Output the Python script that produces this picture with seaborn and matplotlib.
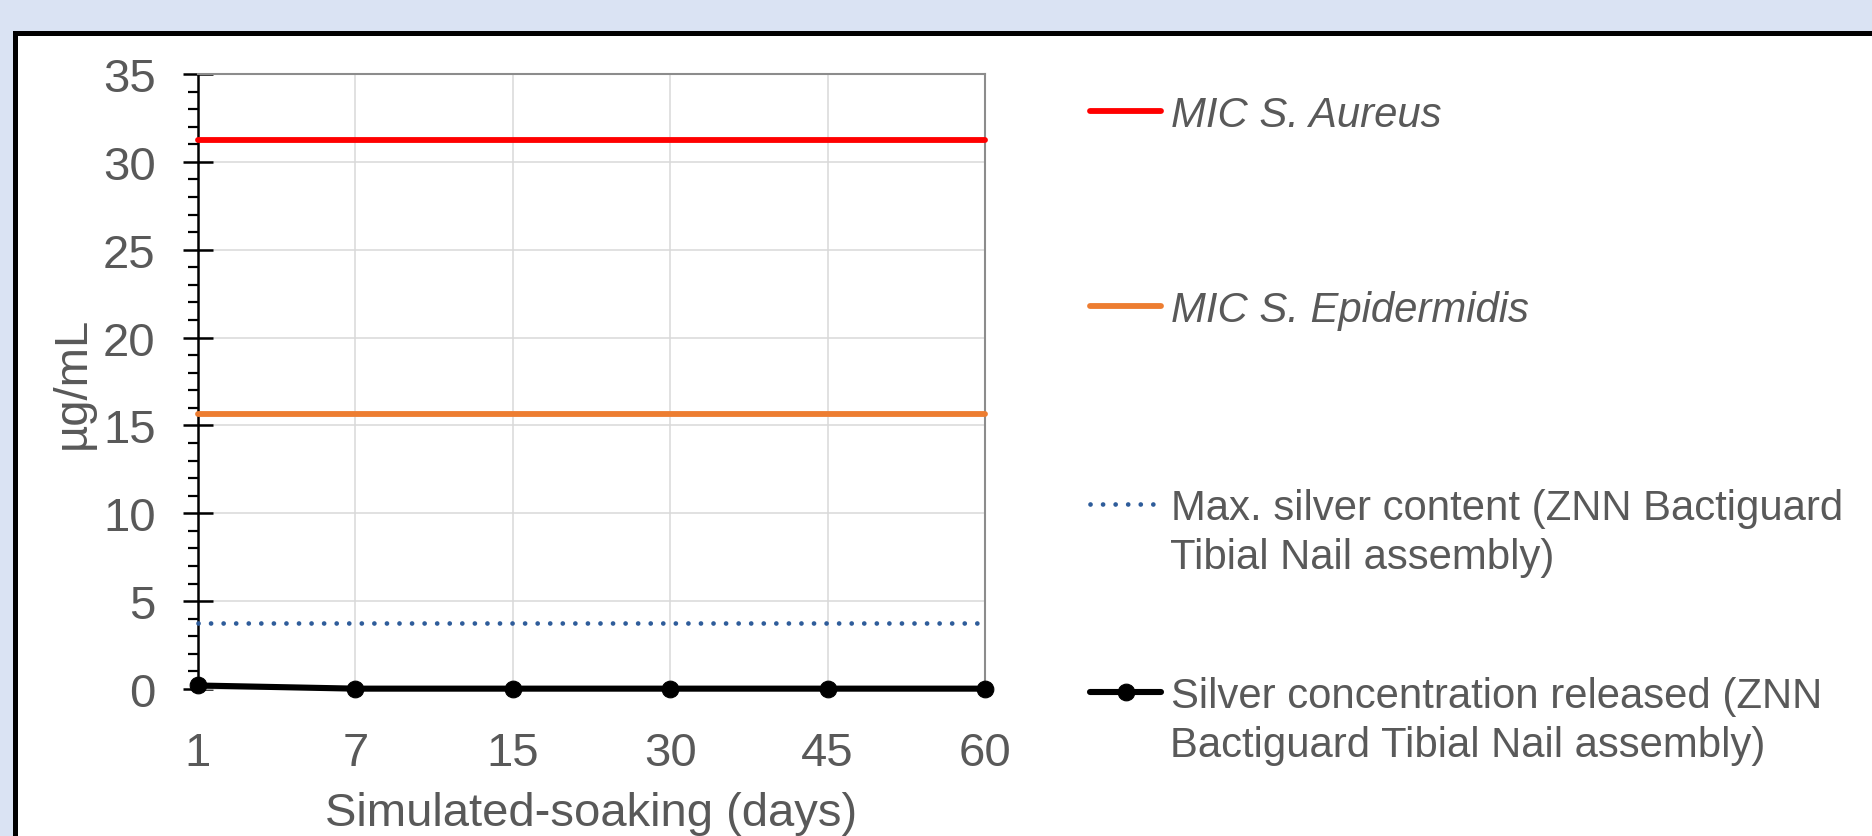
import matplotlib
matplotlib.use("Agg")
import matplotlib.pyplot as plt
import seaborn as sns
import pandas as pd
from matplotlib.patches import Rectangle
from matplotlib.ticker import MultipleLocator

# ---------------- data ----------------
days = ["1", "7", "15", "30", "45", "60"]
mic_aureus = [31.25, 31.25, 31.25, 31.25, 31.25, 31.25]
mic_epidermidis = [15.625, 15.625, 15.625, 15.625, 15.625, 15.625]
max_silver = [3.78, 3.78, 3.78, 3.78, 3.78, 3.78]
silver_released = [0.20, 0.02, 0.02, 0.02, 0.02, 0.02]

label_aureus = "MIC S. Aureus"
label_epi = "MIC S. Epidermidis"
label_max = ["Max. silver content (ZNN Bactiguard", "Tibial Nail assembly)"]
label_rel = ["Silver concentration released (ZNN", "Bactiguard Tibial Nail assembly)"]

x_label = "Simulated-soaking (days)"
y_label = "µg/mL"

# ---------------- style ----------------
sns.set_theme(style="white")
plt.rcParams["font.family"] = ["Liberation Sans", "DejaVu Sans"]
TXT = "#595959"

W, H = 1872, 837
fig = plt.figure(figsize=(W / 100, H / 100), dpi=100)
fig.patch.set_facecolor("#DAE3F3")

panel = Rectangle((14.5 / W, -0.1), 1.2, 1 - 33.5 / H + 0.1,
                  transform=fig.transFigure, facecolor="white",
                  edgecolor="black", lw=3.6, zorder=0)
fig.add_artist(panel)

ax = fig.add_axes([198 / W, 1 - 690 / H, (985 - 198) / W, (690 - 75) / H])
ax.set_facecolor("white")

df = pd.DataFrame({
    "day": days,
    "aureus": mic_aureus,
    "epi": mic_epidermidis,
    "maxs": max_silver,
    "rel": silver_released,
})

sns.lineplot(data=df, x="day", y="aureus", ax=ax, sort=False, errorbar=None,
             color="#FF0000", lw=4.2, solid_capstyle="round")
l_aureus = ax.lines[-1]
sns.lineplot(data=df, x="day", y="epi", ax=ax, sort=False, errorbar=None,
             color="#ED7D31", lw=4.2, solid_capstyle="round")
l_epi = ax.lines[-1]
sns.lineplot(data=df, x="day", y="maxs", ax=ax, sort=False, errorbar=None,
             color="#2E5C9A", lw=3.4)
l_max = ax.lines[-1]
l_max.set_linestyle((0, (0.01, 2.65)))
l_max.set_dash_capstyle("round")
sns.lineplot(data=df, x="day", y="rel", ax=ax, sort=False, errorbar=None,
             color="black", lw=4.4, marker="o", markersize=12,
             markeredgecolor="black", markeredgewidth=0.8,
             solid_capstyle="round")
l_rel = ax.lines[-1]

for i, ln in enumerate((l_aureus, l_epi, l_max, l_rel)):
    ln.set_clip_on(False)
    ln.set_zorder(3 + i * 0.1)

# axes
ax.set_xlim(0, len(days) - 1)
ax.set_ylim(0, 35)
ax.yaxis.set_major_locator(MultipleLocator(5))
ax.yaxis.set_minor_locator(MultipleLocator(1))
ax.grid(True, which="major", color="#D9D9D9", lw=1.1)
ax.set_axisbelow(True)

ax.tick_params(axis="x", length=0, pad=30, labelsize=34, labelcolor=TXT)
ax.tick_params(axis="y", which="major", direction="inout", length=21,
               width=1.8, color="black", pad=20, labelsize=34, labelcolor=TXT,
               left=True)
ax.tick_params(axis="y", which="minor", direction="out", length=7,
               width=1.6, color="black", left=True)

for s in ("top", "right"):
    ax.spines[s].set_color("#8C8C8C")
    ax.spines[s].set_linewidth(1.5)
ax.spines["left"].set_color("black")
ax.spines["left"].set_linewidth(1.8)
ax.spines["bottom"].set_color("#D9D9D9")
ax.spines["bottom"].set_linewidth(1.1)

ax.set_xlabel(x_label, fontsize=34, color=TXT, labelpad=12)
ax.set_ylabel(y_label, fontsize=34, color=TXT, labelpad=6)

# legend (one entry per block, positioned like the original)
entries = [
    (l_aureus, label_aureus, None, 116, "italic"),
    (l_epi, label_epi, None, 311, "italic"),
    (l_max, label_max[0], label_max[1], 509, "normal"),
    (l_rel, label_rel[0], label_rel[1], 697, "normal"),
]
for handle, first, second, yc, style in entries:
    fig.legend(handles=[handle], labels=[first], loc="center left",
               bbox_to_anchor=(1090 / W, 1 - yc / H), frameon=False,
               borderpad=0, borderaxespad=0, handlelength=1.7,
               handletextpad=0.22, numpoints=1,
               prop={"size": 30.2, "style": style,
                     "family": ["Liberation Sans", "DejaVu Sans"]},
               labelcolor=TXT)
    if second:
        fig.text(1170 / W, 1 - (yc + 49) / H, second, va="center", ha="left",
                 fontsize=30.2, color=TXT, fontstyle=style)

fig.savefig("out.png", dpi=100, facecolor=fig.get_facecolor())
